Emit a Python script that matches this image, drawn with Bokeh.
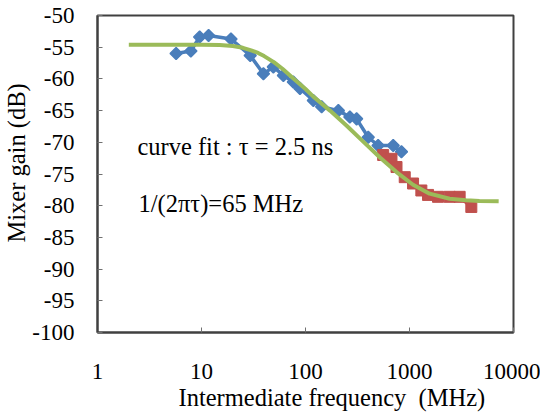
import math
from bokeh.plotting import figure
from bokeh.models import Range1d, FixedTicker, Title
from bokeh.models import Label
from bokeh.embed import file_html
from bokeh.resources import INLINE

# ---- data ----
blue_f = [5.7, 7.9, 9.6, 11.7, 19.2, 29.4, 39.4, 49.1, 61.3, 76.4, 88.5, 119, 143, 207, 267, 310, 401, 499, 697, 837]
blue_g = [-56.0, -55.6, -53.4, -53.15, -53.7, -56.3, -59.2, -58.1, -59.45, -60.5, -61.5, -63.4, -64.4, -65.0, -66.0, -66.3, -69.2, -70.5, -70.5, -71.5]

red_f = [558, 671, 750, 900, 1082, 1300, 1507, 1880, 2430, 3035, 3930]
red_g = [-72.0, -72.6, -73.9, -75.5, -76.5, -77.6, -78.3, -78.6, -78.6, -78.6, -80.2]

fit_f = [2, 5, 10, 15, 20, 25, 30, 35, 40, 50, 60, 76, 100, 119, 172, 249, 359, 520, 750, 1082, 1560, 2430, 3500, 4700, 7200]
fit_g = [-54.6, -54.6, -54.6, -54.65, -54.8, -55.1, -55.5, -55.9, -56.4, -57.4, -58.4, -59.9, -61.6, -62.8, -65.0, -67.4, -69.9, -72.4, -74.7, -76.7, -78.1, -78.9, -79.15, -79.25, -79.3]

x_ticks = [1, 10, 100, 1000, 10000]
x_tick_labels = ["1", "10", "100", "1000", "10000"]
y_ticks = [-100, -95, -90, -85, -80, -75, -70, -65, -60, -55, -50]
y_tick_labels = ["-100", "-95", "-90", "-85", "-80", "-75", "-70", "-65", "-60", "-55", "-50"]

x_title = "Intermediate frequency \u00a0(MHz)"
y_title = "Mixer gain (dB)"
note_1 = "curve fit : \u03c4 = 2.5 ns"
note_2 = "1/(2\u03c0\u03c4)=65 MHz"

FONT = "Liberation Serif"

p = figure(width=540, height=413, x_axis_type="log",
           x_range=Range1d(1, 10000), y_range=Range1d(-100, -50),
           output_backend="svg", toolbar_location=None,
           min_border_left=96, min_border_right=27, min_border_top=15, min_border_bottom=81)

p.xgrid.visible = False
p.ygrid.visible = False
p.outline_line_color = "#404040"
p.outline_line_width = 2
p.background_fill_color = "white"
p.border_fill_color = "white"

# axes
p.xaxis.ticker = FixedTicker(ticks=x_ticks, minor_ticks=[])
p.xaxis.major_label_overrides = {t: l for t, l in zip(x_ticks, x_tick_labels)}
p.yaxis.ticker = FixedTicker(ticks=y_ticks, minor_ticks=[])
p.yaxis.major_label_overrides = {t: l for t, l in zip(y_ticks, y_tick_labels)}

for axes in (p.xaxis, p.yaxis):
    axes.axis_line_color = "#404040"
    axes.axis_line_width = 2
    axes.major_tick_in = 5
    axes.major_tick_out = 0
    axes.major_tick_line_color = "#707070"
    axes.minor_tick_in = 0
    axes.minor_tick_out = 0
    axes.major_label_text_font = FONT
    axes.major_label_text_font_size = "23px"
    axes.major_label_text_color = "black"

p.xaxis.major_label_standoff = 31
p.yaxis.major_label_standoff = 23

# axis titles as side titles, offset like in the reference
p.add_layout(Title(text=x_title, align="left", offset=81, standoff=0,
                   text_font=FONT, text_font_size="24.5px", text_font_style="normal",
                   text_color="black"), "below")
p.add_layout(Title(text=y_title, align="left", offset=90, standoff=0,
                   text_font=FONT, text_font_size="24.5px", text_font_style="normal",
                   text_color="black"), "left")

# series
blue = "#4A7EBB"
red = "#C0504D"
green = "#9BBB59"
p.line(blue_f, blue_g, line_color=blue, line_width=3.5)
p.scatter(blue_f, blue_g, marker="square", size=8.5, angle=math.pi / 4,
          fill_color=blue, line_color=blue, line_width=1.5)
p.line(red_f, red_g, line_color=red, line_width=3.5)
p.scatter(red_f, red_g, marker="square", size=11, fill_color=red, line_color=red)
p.line(fit_f, fit_g, line_color=green, line_width=4)

p.add_layout(Label(x=2.42, y=-70.7, text=note_1, text_font=FONT,
                   text_font_size="24.5px", text_baseline="middle", text_color="black"))
p.add_layout(Label(x=2.48, y=-79.6, text=note_2, text_font=FONT,
                   text_font_size="24.5px", text_baseline="middle", text_color="black"))

open("out.html", "w").write(file_html(p, INLINE))
